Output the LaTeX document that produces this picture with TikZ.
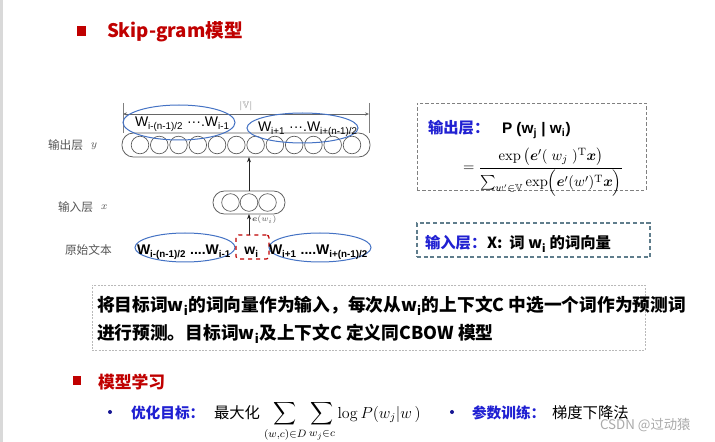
\documentclass[tikz,border=0pt]{standalone}
\usepackage{amsmath,amssymb,bm}
\usepackage[no-math]{fontspec}
\newfontfamily\cjk{Noto Sans CJK SC}
\newfontfamily\arl{Liberation Sans}
\usetikzlibrary{arrows.meta,shapes.geometric}
\definecolor{tred}{RGB}{192,0,0}
\definecolor{tblue}{RGB}{32,32,210}
\definecolor{ellblue}{RGB}{68,114,196}
\definecolor{lblgray}{RGB}{85,85,85}
\definecolor{boxgray}{RGB}{128,128,128}
\definecolor{inboxc}{RGB}{95,125,140}
\definecolor{wmgray}{RGB}{170,170,170}
\newcommand\fs[1]{\fontsize{#1}{#1}\selectfont}
\begin{document}
\begin{tikzpicture}[x=0.75pt,y=-0.75pt,
  every node/.style={inner sep=0pt,outer sep=0pt},
  sq/.style={fill=tred,minimum size=6.75pt},
  lbl/.style={font=\cjk\fs{8.8},text=lblgray},
  ell/.style={ellipse,draw=ellblue,line width=0.75pt},
  layer/.style={draw=gray!75!black,rounded corners=8.5pt,line width=0.6pt,fill=white},
  unit/.style={circle,draw=gray!70!black,line width=0.5pt,minimum size=13.2pt},
  arr/.style={-{Stealth[length=4pt,width=3pt]},draw=gray!30!black,line width=0.6pt},
  dot/.style={circle,fill=tblue!70!black,minimum size=3pt}]
\useasboundingbox (0,0) rectangle (715,442);
\fill[white] (0,0) rectangle (715,442);
\fill[gray!30] (0,0) rectangle (3,442);

% title
\node[sq,minimum size=7pt] (tsq) at (81.5,31) {};
\node[anchor=base west,font=\cjk\bfseries\fs{14},text=tred] (title) at (107,37.5) {Skip-gram模型};

% output layer
\node[layer,minimum width=186pt,minimum height=18pt] (outL) at (246,145) {};
\foreach \k in {1,...,12} \node[unit] (o\k) at ({140+19.27*(\k-1)},145) {};
\coordinate (vl) at (123,103);
\coordinate (vr) at (369,103);
\coordinate (val) at (123,114);
\coordinate (var) at (369,114);
\draw[gray,line width=0.5pt] (vl) -- (vl |- outL.north);
\draw[gray,line width=0.5pt] (vr) -- (vr |- outL.north);
\draw[{Stealth[length=3pt,width=2.5pt]}-{Stealth[length=3pt,width=2.5pt]},gray!80!black,line width=0.5pt] (val) -- (var);
\node[font=\fs{7},text=gray] (vlab) at (246,106) {$|\mathbb{V}|$};
\node[ell,minimum width=84pt,minimum height=26.25pt] (e1) at (179,122.5) {};
\node[ell,minimum width=83.25pt,minimum height=22.5pt] (e2) at (302.5,128) {};
\node[anchor=base west,font=\arl\fs{10.5}] (t1) at (135,127) {W\textsubscript{i-(n-1)/2} ···.W\textsubscript{i-1}};
\node[anchor=base west,font=\arl\fs{10.5}] (t2) at (258,132) {W\textsubscript{i+1} ···.W\textsubscript{i+(n-1)/2}};

% input layer
\node[layer,minimum width=54pt,minimum height=17.25pt] (inL) at (249,202.5) {};
\foreach \k in {1,2,3} \node[unit] (i\k) at ({230.5+18.5*(\k-1)},202.5) {};
\draw[arr] (inL.north) -- (inL.north |- outL.south);

% original text
\node[ell,minimum width=75pt,minimum height=21.75pt] (e3) at (185,247.5) {};
\node[ell,minimum width=76.5pt,minimum height=21.75pt] (e4) at (320,247.5) {};
\node[draw=tred,dashed,rounded corners=2pt,line width=0.9pt,minimum width=24.75pt,minimum height=18pt] (wi) at (252.5,247) {};
\node[anchor=base west,font=\arl\bfseries\fs{10.5}] (t3) at (137,255) {W\textsubscript{i-(n-1)/2} ....W\textsubscript{i-1}};
\node[anchor=base,font=\arl\bfseries\fs{10.5}] (t4) at (251.5,255) {w\textsubscript{i}};
\node[anchor=base west,font=\arl\bfseries\fs{10.5}] (t5) at (269,255) {W\textsubscript{i+1} ....W\textsubscript{i+(n-1)/2}};
\draw[arr] (inL.south |- wi.north) -- (inL.south);
\node[anchor=west,font=\fs{6},text=lblgray] (elab) at (252,220) {$\bm{e}(w_i)$};

% left labels
\node[anchor=base west,lbl] (L1) at (48,149.5) {输出层};
\node[anchor=base west,font=\fs{8},text=lblgray] (L1v) at (91,148) {$y$};
\node[anchor=base west,lbl] (L2) at (58,211.5) {输入层};
\node[anchor=base west,font=\fs{8},text=lblgray] (L2v) at (101,210) {$x$};
\node[anchor=base west,lbl] (L3) at (65,254.5) {原始文本};

% right boxes
\node[draw=boxgray,dash pattern=on 2.5pt off 1.5pt,line width=0.5pt,minimum width=171.75pt,minimum height=65.25pt] (obox) at (531.5,146.5) {};
\node[anchor=base west,font=\cjk\bfseries\fs{11.5},text=tblue] (olab) at (428,134) {输出层：};
\node[anchor=base west,font=\arl\bfseries\fs{11.5}] (pw) at (502,134) {P (w\textsubscript{j} | w\textsubscript{i})};
\node[anchor=base west,font=\fs{11}] (frm) at (463,171.5) {$\displaystyle =\frac{\exp\left(\bm{e}'(\;w_j\;)^{\mathrm{T}}\bm{x}\right)}{\sum_{w'\in\mathbb{V}}\exp\Bigl(\bm{e}'(w')^{\mathrm{T}}\bm{x}\Bigr)}$};

\node[draw=inboxc,dash pattern=on 3pt off 2pt,line width=0.8pt,minimum width=174.75pt,minimum height=25.5pt] (ibox) at (533.5,240) {};
\node[anchor=base west,font=\cjk\bfseries\fs{11.5},text=tblue] (ilab) at (425,249) {输入层：};
\node[anchor=base west,font=\cjk\bfseries\fs{11.5}] (itxt) at (487,249) {X:\ \ 词 w\textsubscript{i} 的词向量};

% text box
\node[draw=gray!55,dash pattern=on 1.5pt off 1pt,line width=0.5pt,minimum width=414.75pt,minimum height=48.75pt] (tbox) at (368.5,317.5) {};
\node[anchor=base west,font=\cjk\bfseries\fs{13.3}] (p1) at (97,311.5) {将目标词w\textsubscript{i}的词向量作为输入，每次从w\textsubscript{i}的上下文C 中选一个词作为预测词};
\node[anchor=base west,font=\cjk\bfseries\fs{13.3}] (p2) at (97,339.5) {进行预测。目标词w\textsubscript{i}及上下文C 定义同CBOW 模型};

% section 2
\node[sq,minimum size=6.5pt] (s2sq) at (77,380.5) {};
\node[anchor=base west,font=\cjk\bfseries\fs{12.6},text=tred] (s2) at (98,388) {模型学习};
\node[dot] (b1) at (110,412) {};
\node[anchor=base west,font=\cjk\bfseries\fs{11},text=tblue] (g1) at (131,418) {优化目标：};
\node[anchor=base west,font=\cjk\fs{11.5}] (g2) at (214,418) {最大化};
\node[anchor=base west,font=\fs{12}] (g3) at (264,418) {$\displaystyle\sum_{(w,c)\in D}\sum_{w_j\in c}\log P(w_j|w\,)$};
\node[dot] (b2) at (452,412) {};
\node[anchor=base west,font=\cjk\bfseries\fs{11},text=tblue] (g4) at (472,418) {参数训练：};
\node[anchor=base west,font=\cjk\fs{11.5}] (g5) at (552,418) {梯度下降法};
\node[anchor=base west,font=\cjk\fs{10},text=wmgray] (wm) at (600,429) {CSDN @过动猿};
\end{tikzpicture}
\end{document}
